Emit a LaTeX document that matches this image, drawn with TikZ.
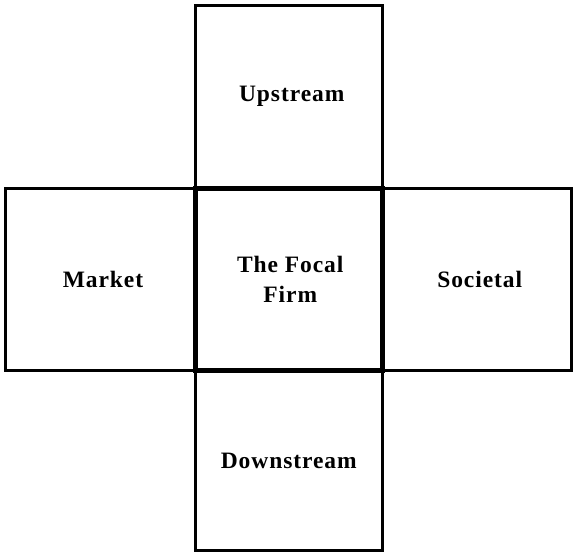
\documentclass[tikz,border=0pt]{standalone}
\usepackage{fontspec}
\setmainfont{Liberation Serif}[LetterSpace=4]
\begin{document}
\begin{tikzpicture}[x=1pt,y=-1pt,
  box/.style={draw=black, line width=3pt, rectangle, inner sep=0pt, align=center,
    font=\bfseries\fontsize{23.5}{30}\selectfont, text=black}]
\useasboundingbox[fill=white] (0,0) rectangle (573,552);
\node[box, minimum width=187.5pt, minimum height=182.5pt] (up) at (288.75,96.75) {\hspace*{6pt}Upstream};
\node[box, minimum width=190pt, minimum height=182.5pt] (market) at (100,279.25) {\hspace*{6pt}Market};
\node[box, minimum width=188.5pt, minimum height=182.5pt] (soc) at (476.75,279.25) {\hspace*{6pt}Societal};
\node[box, minimum width=187.5pt, minimum height=180pt] (down) at (288.75,460.5) {Downstream};
\node[box, line width=5pt, minimum width=187.5pt, minimum height=182.5pt] (firm) at (288.75,279.25) {\hspace*{3pt}The Focal\\\hspace*{3pt}Firm};
\end{tikzpicture}
\end{document}
